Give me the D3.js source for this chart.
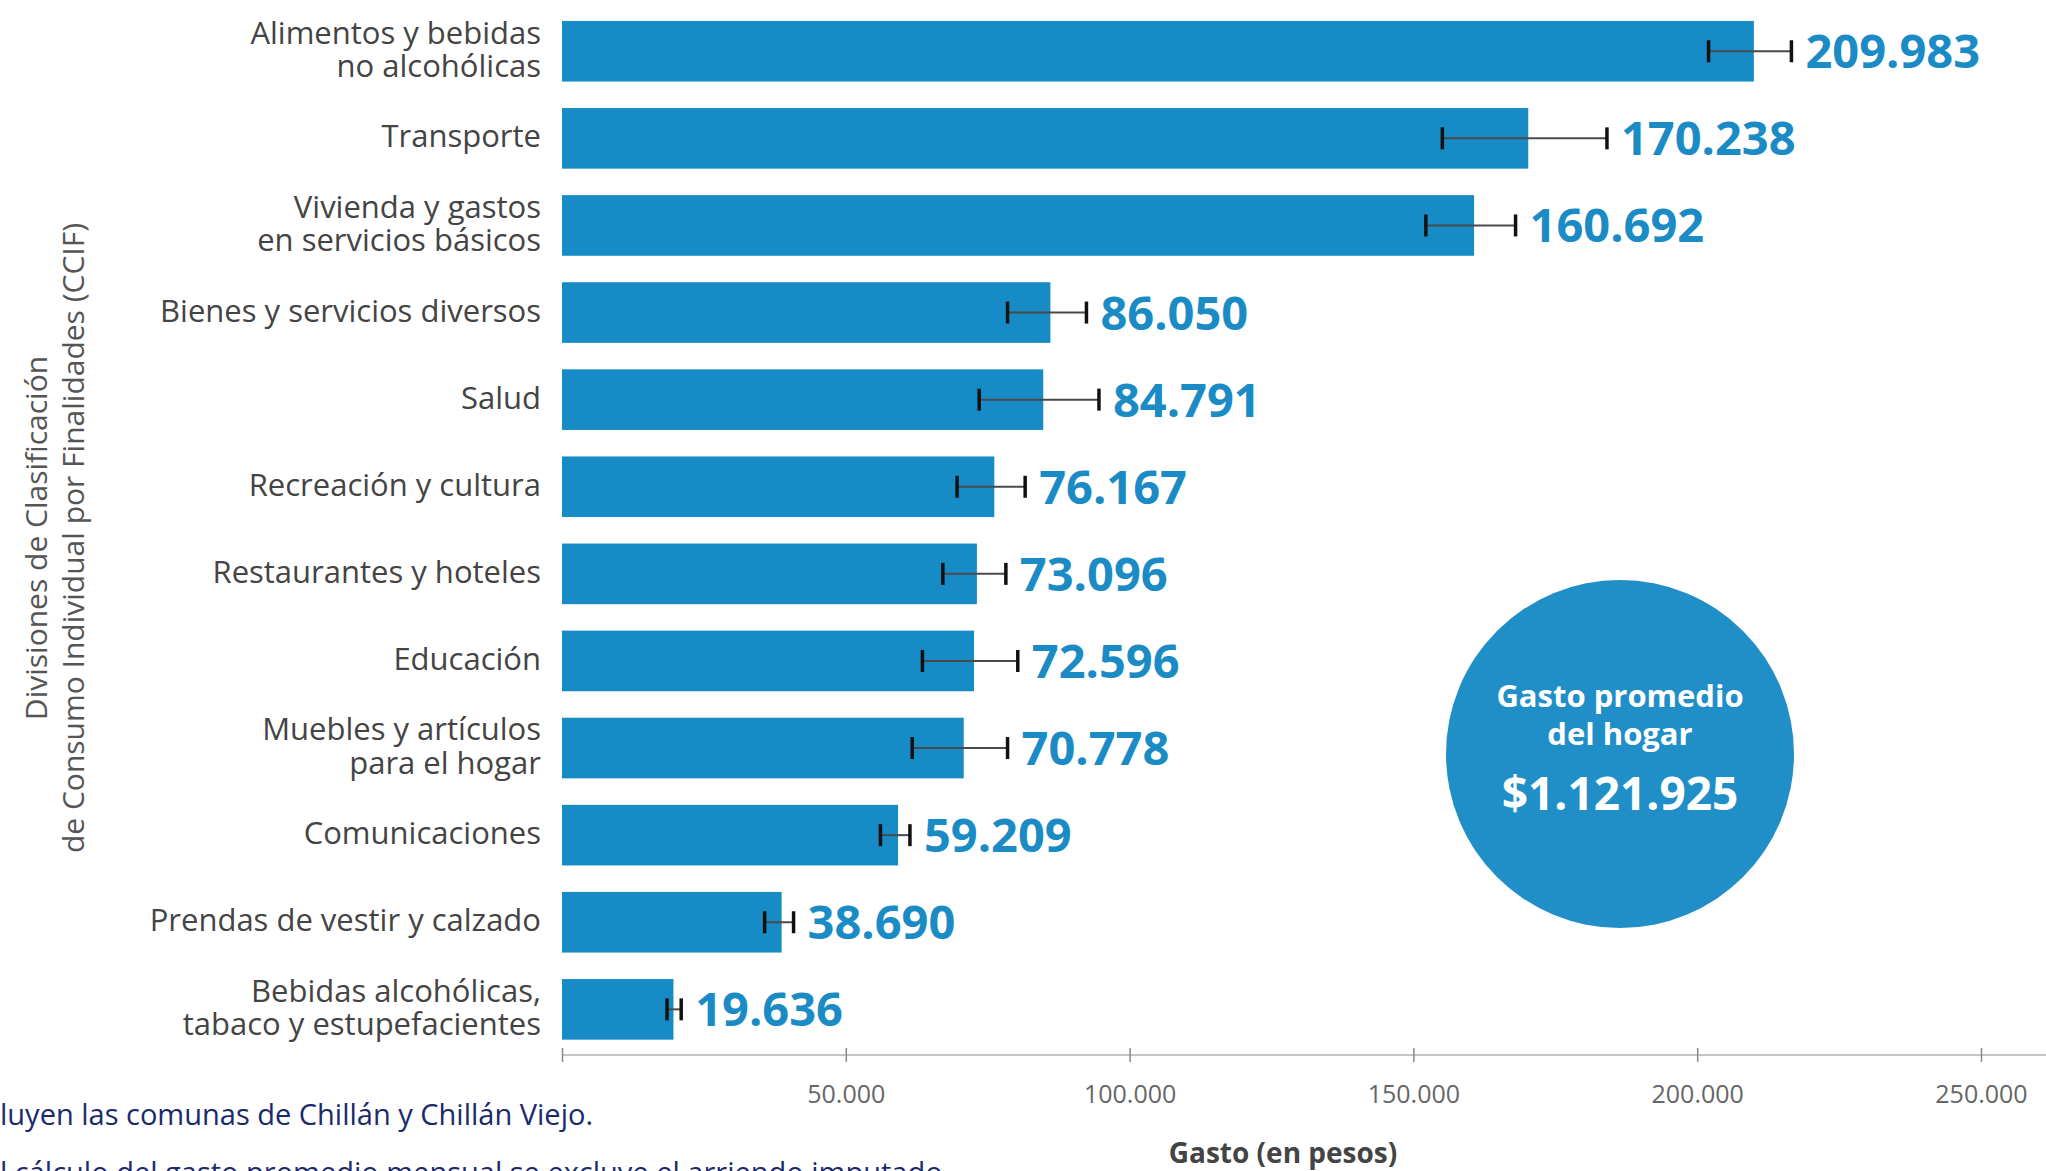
<!DOCTYPE html>
<html>
<head>
<meta charset="utf-8">
<script src="https://cdn.jsdelivr.net/npm/d3@7"></script>
<style>
  html, body { margin: 0; padding: 0; background: #ffffff; overflow: hidden; }
  svg { display: block; }
</style>
</head>
<body>
<svg id="chart" width="2046" height="1171"></svg>
<script>
// ---------------- DATA ----------------
const categories = [
  "Alimentos y bebidas\nno alcohólicas",
  "Transporte",
  "Vivienda y gastos\nen servicios básicos",
  "Bienes y servicios diversos",
  "Salud",
  "Recreación y cultura",
  "Restaurantes y hoteles",
  "Educación",
  "Muebles y artículos\npara el hogar",
  "Comunicaciones",
  "Prendas de vestir y calzado",
  "Bebidas alcohólicas,\ntabaco y estupefacientes"
];
const values  = [209983, 170238, 160692, 86050, 84791, 76167, 73096, 72596, 70778, 59209, 38690, 19636];
const errLow  = [202000, 155100, 152200, 78500, 73500, 69600, 67100, 63500, 61700, 56100, 35700, 18500];
const errHigh = [216600, 184100, 168000, 92400, 94600, 81600, 78200, 80300, 78500, 61300, 40800, 21000];
const tickValues = [0, 50000, 100000, 150000, 200000, 250000];
const tickLabels = ["", "50.000", "100.000", "150.000", "200.000", "250.000"];
const yTitleLines = ["Divisiones de Clasificación", "de Consumo Individual por Finalidades (CCIF)"];
const xTitle = "Gasto (en pesos)";
const circleLines = ["Gasto promedio", "del hogar"];
const circleTotal = 1121925;
const footnotes = [
  "luyen las comunas de Chillán y Chillán Viejo.",
  "l cálculo del gasto promedio mensual se excluye el arriendo imputado."
];

// ---------------- SETUP ----------------
const svg = d3.select("#chart");
const W = 2046, H = 1171;
svg.append("rect").attr("width", W).attr("height", H).attr("fill", "#ffffff");

const locale = d3.formatLocale({ decimal: ",", thousands: ".", grouping: [3], currency: ["$", ""] });
const fmt = locale.format(",d");
const fmtCur = locale.format("$,d");

const BAR = "#178bc5";
const CIRCLE = "#208fc7";
const FONT = "'Open Sans', 'Noto Sans', sans-serif";

const x = d3.scaleLinear().domain([0, 250000]).range([562, 1981]);
const y = d3.scaleBand().domain(categories).range([7.7, 1052.9]).paddingInner(0.304).paddingOuter(0.152);

const data = categories.map((c, i) => ({ cat: c, v: values[i], lo: errLow[i], hi: errHigh[i] }));

// ---------------- BARS ----------------
svg.append("g").selectAll("rect").data(data).join("rect")
  .attr("x", x(0))
  .attr("y", d => y(d.cat))
  .attr("width", d => x(d.v) - x(0))
  .attr("height", y.bandwidth())
  .attr("fill", BAR);

// ---------------- ERROR BARS ----------------
const eb = svg.append("g").selectAll("g").data(data).join("g")
  .attr("transform", d => `translate(0,${y(d.cat) + y.bandwidth() / 2})`);
eb.append("line")
  .attr("x1", d => x(d.lo)).attr("x2", d => x(d.hi))
  .attr("y1", 0).attr("y2", 0)
  .attr("stroke", "#4a4a4a").attr("stroke-width", 2);
eb.append("line")
  .attr("x1", d => x(d.lo)).attr("x2", d => x(d.lo))
  .attr("y1", -11).attr("y2", 11)
  .attr("stroke", "#111").attr("stroke-width", 3.5);
eb.append("line")
  .attr("x1", d => x(d.hi)).attr("x2", d => x(d.hi))
  .attr("y1", -11).attr("y2", 11)
  .attr("stroke", "#111").attr("stroke-width", 3.5);

// ---------------- VALUE LABELS ----------------
svg.append("g").selectAll("text").data(data).join("text")
  .attr("x", d => Math.max(x(d.v), x(d.hi)) + 14)
  .attr("y", d => y(d.cat) + y.bandwidth() / 2 + 17)
  .attr("font-family", FONT)
  .attr("font-weight", 700)
  .attr("font-size", 47)
  .attr("fill", "#1a8bc4")
  .text(d => fmt(d.v));

// ---------------- CATEGORY LABELS ----------------
const catG = svg.append("g").selectAll("text").data(data).join("text")
  .attr("text-anchor", "end")
  .attr("font-family", FONT)
  .attr("font-size", 31)
  .attr("fill", "#444");
catG.each(function (d) {
  const lines = d.cat.split("\n");
  const cy = y(d.cat) + y.bandwidth() / 2;
  const t = d3.select(this);
  lines.forEach((ln, i) => {
    t.append("tspan")
      .attr("x", 541)
      .attr("y", cy + 9 + (i - (lines.length - 1) / 2) * 33.5)
      .text(ln);
  });
});

// ---------------- X AXIS ----------------
const axisY = 1055;
svg.append("line")
  .attr("x1", x(0)).attr("x2", W)
  .attr("y1", axisY).attr("y2", axisY)
  .attr("stroke", "#c4c4c4").attr("stroke-width", 2);

const axis = d3.axisBottom(x)
  .tickValues(tickValues)
  .tickFormat((d, i) => tickLabels[i])
  .tickSize(0);
const ag = svg.append("g").attr("transform", `translate(0,${axisY})`).call(axis);
ag.select(".domain").remove();
ag.selectAll(".tick line")
  .attr("y1", -7).attr("y2", 7)
  .attr("stroke", "#888").attr("stroke-width", 1.5);
ag.selectAll(".tick text")
  .attr("y", 48).attr("dy", 0)
  .attr("font-family", FONT)
  .attr("font-size", 25)
  .attr("fill", "#666");

svg.append("text")
  .attr("x", 1283).attr("y", 1163)
  .attr("text-anchor", "middle")
  .attr("font-family", FONT)
  .attr("font-weight", 700)
  .attr("font-size", 28)
  .attr("fill", "#444")
  .text(xTitle);

// ---------------- Y TITLE ----------------
const yt = svg.append("text")
  .attr("transform", "translate(0,538) rotate(-90)")
  .attr("text-anchor", "middle")
  .attr("font-family", FONT)
  .attr("font-size", 30)
  .attr("fill", "#555");
yTitleLines.forEach((ln, i) => {
  yt.append("tspan").attr("x", 0).attr("y", 47 + i * 37).text(ln);
});

// ---------------- CIRCLE ----------------
const cg = svg.append("g").attr("transform", "translate(1620,754)");
cg.append("circle").attr("r", 174).attr("fill", CIRCLE);
circleLines.forEach((ln, i) => {
  cg.append("text")
    .attr("x", 0).attr("y", -47 + i * 37.6)
    .attr("text-anchor", "middle")
    .attr("font-family", FONT)
    .attr("font-weight", 700)
    .attr("font-size", 31)
    .attr("fill", "#ffffff")
    .text(ln);
});
cg.append("text")
  .attr("x", 0).attr("y", 56)
  .attr("text-anchor", "middle")
  .attr("font-family", FONT)
  .attr("font-weight", 700)
  .attr("font-size", 46)
  .attr("fill", "#ffffff")
  .text(fmtCur(circleTotal));

// ---------------- FOOTNOTES ----------------
footnotes.forEach((ln, i) => {
  svg.append("text")
    .attr("x", 0).attr("y", 1125 + i * 58)
    .attr("font-family", FONT)
    .attr("font-size", 29)
    .attr("fill", "#1b2a6b")
    .text(ln);
});
</script>
</body>
</html>
